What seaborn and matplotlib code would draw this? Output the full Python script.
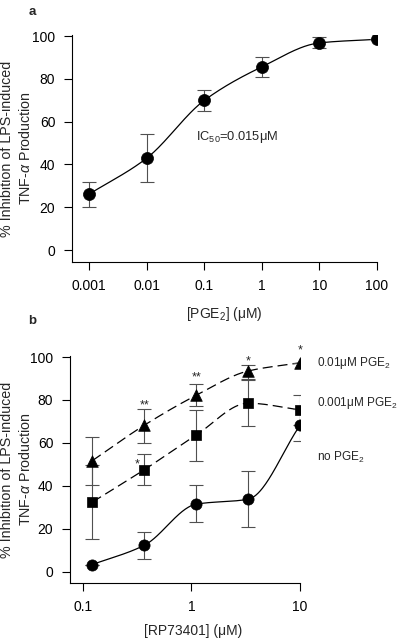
import numpy as np
import pandas as pd
import matplotlib
matplotlib.use("Agg")
import matplotlib.pyplot as plt
import seaborn as sns

# ---- panel a data: PGE2 alone ----
pge2_conc = [0.001, 0.01, 0.1, 1, 10, 100]
pge2_inhib = [26.1, 42.9, 69.9, 85.6, 96.8, 98.5]
pge2_lo = [20.3, 31.8, 65.1, 81.1, 94.4, 98.5]
pge2_hi = [31.8, 54.1, 75.0, 90.1, 99.4, 98.5]
pge2_ticks = ["0.001", "0.01", "0.1", "1", "10", "100"]

# ---- panel b data: RP73401 +/- PGE2 ----
rp_conc = [0.123, 0.37, 1.11, 3.33, 10]
rp_ticks = ["0.1", "1", "10"]
no_pge2 = [3.4, 12.4, 31.5, 33.8, 68.2]
no_pge2_lo = [3.4, 6.0, 23.0, 20.9, 60.7]
no_pge2_hi = [3.4, 18.7, 40.6, 47.0, 75.7]
pge2_001 = [32.5, 47.6, 63.7, 78.5, 75.4]
pge2_001_lo = [15.5, 40.5, 51.8, 67.7, 68.3]
pge2_001_hi = [49.5, 54.7, 75.3, 89.5, 82.5]
pge2_01 = [51.8, 68.3, 82.2, 93.5, 97.3]
pge2_01_lo = [40.5, 60.1, 77.0, 90.0, 97.3]
pge2_01_hi = [63.0, 76.0, 87.6, 96.2, 97.3]


def smooth(x, y, n=200):
    # monotone cubic (pchip) through the points, in log10(x)
    lx = np.log10(np.asarray(x, float))
    y = np.asarray(y, float)
    h = np.diff(lx)
    d = np.diff(y) / h
    m = np.zeros_like(y)
    m[0], m[-1] = d[0], d[-1]
    for k in range(1, len(y) - 1):
        if d[k - 1] * d[k] > 0:
            w1 = 2 * h[k] + h[k - 1]
            w2 = h[k] + 2 * h[k - 1]
            m[k] = (w1 + w2) / (w1 / d[k - 1] + w2 / d[k])
    xs = np.linspace(lx[0], lx[-1], n)
    idx = np.clip(np.searchsorted(lx, xs) - 1, 0, len(h) - 1)
    t = (xs - lx[idx]) / h[idx]
    h00 = 2 * t**3 - 3 * t**2 + 1
    h10 = t**3 - 2 * t**2 + t
    h01 = -2 * t**3 + 3 * t**2
    h11 = t**3 - t**2
    ys = (h00 * y[idx] + h10 * h[idx] * m[idx] + h01 * y[idx + 1]
          + h11 * h[idx] * m[idx + 1])
    return 10**xs, ys


sns.set_style("ticks")
plt.rcParams["font.family"] = ["Liberation Sans", "DejaVu Sans"]
plt.rcParams["mathtext.fontset"] = "custom"
plt.rcParams["mathtext.rm"] = "Liberation Sans"
plt.rcParams["mathtext.it"] = "Liberation Sans:italic"
plt.rcParams["axes.unicode_minus"] = False

fig = plt.figure(figsize=(4.01, 6.40), dpi=100)
ax_a = fig.add_axes([0.1796, 0.5906, 0.7604, 0.3547])
ax_b = fig.add_axes([0.1746, 0.0891, 0.5736, 0.3547])

FS = 10
ylab = "% Inhibition of LPS-induced\nTNF-$\\alpha$ Production"
err_kw = dict(fmt="none", ecolor="#505050", elinewidth=0.8, capsize=5,
              capthick=0.8, zorder=2)


def draw(ax, x, y, lo, hi, marker, size, dashed):
    df = pd.DataFrame({"x": x, "y": y, "lo": lo, "hi": hi})
    xs, ys = smooth(df["x"], df["y"])
    ls = (0, (8, 4)) if dashed else "-"
    sns.lineplot(x=xs, y=ys, ax=ax, color="black", lw=0.9, linestyle=ls,
                 sort=False, estimator=None, zorder=1)
    ax.errorbar(df["x"], df["y"], yerr=[df["y"] - df["lo"], df["hi"] - df["y"]],
                **err_kw)
    sns.scatterplot(data=df, x="x", y="y", ax=ax, marker=marker, s=size,
                    color="black", edgecolor="black", linewidth=0.5, zorder=3)


# ---- panel a ----
draw(ax_a, pge2_conc, pge2_inhib, pge2_lo, pge2_hi, "o", 75, False)
ax_a.set_xscale("log")
ax_a.set_xlim(0.000507, 100)
ax_a.set_ylim(-5.6, 100.5)
ax_a.set_xticks([float(t) for t in pge2_ticks])
ax_a.set_xticklabels(pge2_ticks)
ax_a.text(0.071, 52.6, "IC$_{50}$=0.015\u03bcM", fontsize=9.3, va="center")
ax_a.set_xlabel("[PGE$_2$] (\u03bcM)", fontsize=FS)
ax_a.xaxis.set_label_coords(0.5, -0.19)
ax_a.yaxis.set_label_coords(-0.128, 0.5)

# ---- panel b ----
draw(ax_b, rp_conc, no_pge2, no_pge2_lo, no_pge2_hi, "o", 65, False)
draw(ax_b, rp_conc, pge2_001, pge2_001_lo, pge2_001_hi, "s", 50, True)
draw(ax_b, rp_conc, pge2_01, pge2_01_lo, pge2_01_hi, "^", 70, True)
ax_b.set_xscale("log")
ax_b.set_xlim(0.0764, 10)
ax_b.set_ylim(-5.2, 100.5)
ax_b.set_xticks([float(t) for t in rp_ticks])
ax_b.set_xticklabels(rp_ticks)
ax_b.set_xlabel("[RP73401] (\u03bcM)", fontsize=FS)
ax_b.xaxis.set_label_coords(0.535, -0.18)
ax_b.yaxis.set_label_coords(-0.161, 0.5)

for lbl, yv in [("0.01\u03bcM PGE$_2$", 97.2), ("0.001\u03bcM PGE$_2$", 78.7),
                ("no PGE$_2$", 53.2)]:
    ax_b.text(14.3, yv, lbl, fontsize=8.5, va="center", clip_on=False)

for xv, yv, s in [(0.37, 77.5, "**"), (1.11, 90.5, "**"), (3.33, 98.0, "*"),
                  (10, 103.2, "*"), (0.314, 50.0, "*")]:
    ax_b.text(xv, yv, s, fontsize=9, ha="center", va="center", clip_on=False)

for ax in (ax_a, ax_b):
    sns.despine(ax=ax)
    ax.minorticks_off()
    ax.set_yticks([0, 20, 40, 60, 80, 100])
    ax.tick_params(direction="out", length=6, width=0.8, labelsize=FS,
                   pad=6, colors="black")
    ax.set_ylabel(ylab, fontsize=10.3, linespacing=1.3)
    for sp in ("left", "bottom"):
        ax.spines[sp].set_linewidth(0.8)
        ax.spines[sp].set_color("black")

fig.text(32 / 401, 1 - 12 / 640, "a", fontsize=9.5, fontweight="bold",
         ha="center", va="center")
fig.text(32 / 401, 1 - 321 / 640, "b", fontsize=9.5, fontweight="bold",
         ha="center", va="center")

fig.savefig("out.png", dpi=100)
